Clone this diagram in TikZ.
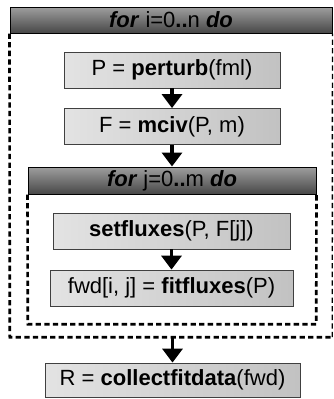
\documentclass[tikz,border=0pt]{standalone}
\usepackage{fontspec}
\setmainfont{Liberation Sans}
\usetikzlibrary{positioning}
\usetikzlibrary{arrows.meta}
\colorlet{box edge colour}{black!75}
\colorlet{box left colour}{black!11}
\colorlet{box right colour}{black!24}
\colorlet{head top colour}{black!38}
\colorlet{head bottom colour}{black!72}
\tikzset{
    % A heavy head for the flow arrows
    >={Triangle[width=20pt,length=14pt]},
%
    % Fills
    box fill/.style={left color=box left colour, right color=box right colour},
    head fill/.style={top color=head top colour, bottom color=head bottom colour},
    % Lines
    flow/.style={draw=black, line width=3.5pt, ->},
    loop frame/.style={draw=black, line width=2.6pt, dash pattern=on 5.3pt off 3.3pt},
%
    every node/.style={align=center, font=\fontsize{22}{26}\selectfont},
}

\begin{document}
\begin{tikzpicture}[x=1pt, y=-1pt,
    call box/.style={draw=box edge colour, line width=0.8pt, box fill,
        inner sep=0, minimum height=36pt},
    loop head/.style={draw=black, line width=1pt, head fill,
        inner sep=0, minimum height=26pt},
    ]

% Page extent
\useasboundingbox (0,0) rectangle (333,399);

% Outer loop over i
\node (iloop) [inner sep=0, minimum width=322pt, minimum height=330pt] at (171,172) {};
\node (ihead) [loop head, minimum width=322pt] at (171,20)
    {\textbf{\textit{for}} i=0\textbf{..}n \textbf{\textit{do}}};
\draw [loop frame] (ihead.south west) -- (iloop.south west) -- (iloop.south east);
\draw [loop frame, line width=1.4pt] (iloop.south east) -- (ihead.south east);

\node (perturb) [call box, minimum width=216pt] at (172,70)
    {P = \textbf{perturb}(fml)};
\node (mciv) [call box, minimum width=216pt] at (172,126.5)
    {F = \textbf{mciv}(P, m)};

% Inner loop over j
\node (jloop) [inner sep=0, minimum width=288pt, minimum height=157pt] at (172,245.5) {};
\node (jhead) [loop head, minimum width=288pt, minimum height=27pt] at (172,180.5)
    {\textbf{\textit{for}} j=0\textbf{..}m \textbf{\textit{do}}};
\draw [loop frame] (jhead.south west) -- (jloop.south west) -- (jloop.south east)
    -- (jhead.south east);

\node (setfluxes) [call box, minimum width=237pt] at (171.5,231)
    {\textbf{setfluxes}(P, F[j])};
\node (fitfluxes) [call box, minimum width=243pt] at (171.5,288)
    {fwd[i, j] = \textbf{fitfluxes}(P)};

% Result after both loops
\node (collect) [call box, minimum width=255pt, minimum height=34pt] at (172.5,380)
    {R = \textbf{collectfitdata}(fwd)};

% Flow
\draw [flow] (perturb) -- (mciv);
\draw [flow] (mciv) -- (jhead);
\draw [flow] (setfluxes) -- (fitfluxes);
\draw [flow] (iloop.south -| collect.north) -- (collect);

\end{tikzpicture}
\end{document}
